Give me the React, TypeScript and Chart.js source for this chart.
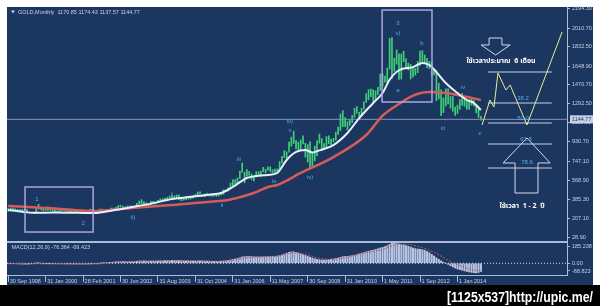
import React, { useEffect, useRef } from 'react';
import { Chart, registerables } from 'chart.js';

Chart.register(...registerables);

// ---------- data ----------
const DATE_IDX = [0, 16, 32, 48, 64, 80, 96, 112, 128, 144, 160, 176, 192];
const DATE_LABELS = ['30 Sep 1998', '31 Jan 2000', '28 Feb 2001', '30 Jun 2002', '31 Aug 2003', '31 Oct 2004', '31 Jan 2006', '11 May 2007', '30 Sep 2008', '31 Jan 2010', '1 May 2011', '1 Sep 2012', '1 Jan 2014'];
const PRICE_TICKS = [28.9, 207.1, 385.3, 568.9, 747.1, 930.7, 1110.9, 1292.5, 1470.7, 1648.9, 1832.5, 2010.7, 2194.3];
const MACD_TICK_POS = [157.8, 0, -70.5];
const MACD_TICK_LABELS = ['185.238', '0.00', '-88.823'];
const TITLE = 'GOLD,Monthly  1170.85 1174.43 1137.57 1144.77';
const MACD_TITLE = 'MACD(12,26,9) -76.364 -69.423';
const LAST_PRICE = 1144.77;

const HIGH = [
  300, 302, 301, 296,
  292, 291, 290, 292, 290, 265, 263, 258, 310, 339, 300, 291,
  293, 315, 305, 296, 288, 278, 294, 290, 291, 283, 279, 277, 275, 273, 276,
  273, 268, 269, 266, 293, 291, 269, 280, 294, 294, 282, 279, 287, 304, 304, 310, 328,
  330, 322, 314, 324, 325, 322, 322, 349, 370, 383, 365, 355, 341, 367, 368, 358,
  376, 390, 391, 398, 405, 417, 427, 419, 428, 428, 395, 398, 399, 411, 413, 421,
  434, 456, 458, 432, 438, 444, 437, 435, 438, 443, 430, 446, 476, 476, 496, 540,
  572, 574, 589, 655, 730, 643, 668, 650, 626, 607, 648, 649,
  655, 690, 672, 695, 693, 667, 673, 675, 745, 795, 848, 837,
  930, 975, 1032, 945, 929, 951, 988, 917, 905, 932, 825, 890,
  943, 1005, 963, 914, 981, 989, 958, 965, 1024, 1072, 1195, 1227,
  1162, 1124, 1140, 1182, 1249, 1266, 1211, 1250, 1310, 1388, 1425, 1432,
  1424, 1415, 1448, 1575, 1577, 1554, 1632, 1912, 1921, 1725, 1803, 1765,
  1765, 1791, 1720, 1677, 1666, 1640, 1627, 1693, 1791, 1796, 1755, 1722,
  1694, 1684, 1617, 1605, 1488, 1424, 1348, 1434, 1434, 1361, 1362, 1262,
  1280, 1332, 1392, 1331, 1315, 1332, 1346, 1322, 1287, 1255, 1174,
];
const LOW = [
  273, 288, 287, 283,
  283, 281, 278, 279, 265, 257, 252, 251, 254, 293, 287, 278,
  281, 282, 284, 275, 272, 267, 270, 276, 275, 270, 269, 268, 263, 263, 265,
  263, 255, 255, 255, 263, 265, 263, 266, 270, 276, 273, 271, 277, 285, 288, 298, 307,
  313, 300, 300, 311, 313, 314, 316, 316, 341, 345, 338, 326, 319, 335, 340, 341,
  352, 369, 370, 379, 388, 397, 399, 391, 392, 384, 372, 378, 383, 387, 389, 396,
  415, 426, 434, 417, 412, 424, 419, 414, 416, 414, 418, 428, 433, 460, 463, 494,
  514, 538, 544, 582, 642, 543, 605, 614, 573, 561, 601, 612,
  603, 647, 636, 663, 650, 640, 642, 642, 669, 732, 781, 778,
  834, 890, 915, 863, 851, 860, 912, 786, 740, 681, 705, 751,
  801, 918, 866, 865, 885, 913, 904, 931, 947, 1002, 1037, 1075,
  1075, 1044, 1088, 1114, 1164, 1202, 1156, 1177, 1242, 1305, 1330, 1359,
  1309, 1330, 1381, 1419, 1462, 1496, 1478, 1622, 1532, 1600, 1668, 1523,
  1527, 1691, 1627, 1613, 1527, 1546, 1564, 1587, 1656, 1693, 1672, 1635,
  1626, 1555, 1565, 1321, 1338, 1180, 1207, 1270, 1292, 1251, 1221, 1182,
  1200, 1240, 1277, 1268, 1240, 1240, 1280, 1273, 1206, 1161, 1137,
];
const MACD = [
  -2, -3, -4, -5, -6, -7, -7, -8, -8, -7, -5, -1, 1, 1, 0, -1,
  -2, -2, -3, -4, -4, -5, -5, -5, -6, -6, -6, -6, -7, -7, -7, -7,
  -7, -7, -7, -6, -5, -4, -3, -1, 1, 3, 5, 7, 9, 11, 13, 14,
  15, 15, 15, 14, 14, 15, 17, 19, 21, 22, 22, 21, 20, 20, 20, 20,
  21, 22, 23, 24, 25, 26, 27, 27, 27, 26, 24, 23, 22, 22, 21, 21,
  21, 22, 23, 22, 21, 20, 19, 18, 18, 18, 18, 19, 21, 23, 26, 31,
  36, 40, 44, 50, 58, 60, 62, 62, 61, 59, 58, 58, 58, 59, 60, 62,
  62, 63, 64, 66, 70, 76, 84, 92, 100, 104, 104, 100, 94, 86, 78, 72,
  64, 56, 48, 42, 36, 32, 30, 30, 32, 34, 38, 40, 44, 48, 54, 60,
  62, 64, 66, 70, 74, 80, 86, 92, 98, 104, 110, 116, 120, 126, 132, 140,
  146, 152, 160, 172, 182, 185.2, 180, 176, 172, 168, 162, 156, 148, 140, 134, 130,
  128, 124, 118, 108, 96, 82, 66, 50, 36, 22, 10, 0, -10, -22, -34, -44,
  -52, -58, -64, -70, -75, -79, -83, -86, -88.8, -84, -76.4,
];
const SIGNAL: [number, number][] = [
  [0, -2], [16, -5], [36, -6], [48, 10], [60, 20], [72, 26], [84, 21], [92, 19], [100, 44], [106, 58],
  [114, 62], [122, 96], [126, 90], [132, 52], [138, 34], [144, 50], [152, 92], [160, 126], [166, 170],
  [170, 175], [176, 148], [182, 100], [188, 28], [194, -30], [198, -58], [202, -69.4],
];
const MA_FAST: [number, number][] = [
  [0, 285], [6, 268], [11, 258], [20, 262], [30, 258], [37, 256], [45, 282], [53, 313], [62, 350], [70, 389],
  [78, 410], [86, 430], [91, 446], [96, 503], [102, 588], [107, 610], [111, 617], [115, 636], [119, 759],
  [123, 835], [127, 854], [130, 830], [133, 850], [139, 901], [145, 1015], [150, 1157], [156, 1300],
  [160, 1394], [163, 1520], [167, 1610], [173, 1640], [177, 1680], [180, 1660], [183, 1593], [187, 1489],
  [192, 1394], [196, 1328], [199, 1300], [202, 1233],
];
const MA_SLOW: [number, number][] = [
  [0, 323], [20, 300], [36, 275], [53, 304], [70, 332], [90, 370], [94, 380], [105, 446], [111, 503],
  [115, 522], [125, 636], [139, 787], [153, 996], [160, 1180], [167, 1290], [173, 1370], [180, 1404],
  [187, 1394], [194, 1366], [202, 1328],
];
const ZIGZAG: [number, number][] = [
  [202.5, 1091], [205.9, 1328], [207.6, 1262], [209.3, 1584], [212.7, 1423], [214.5, 1470], [221.7, 1091], [236.7, 1973],
];
const FIB_LEVELS = [1593.5, 1299.5, 1110, 910.7, 683];
const FIB_SPAN = [205, 232.3];
const FIB_LABELS: [number, number, string][] = [
  [220, 1347, '38.2'], [220, 1157, '50.0'], [221.3, 958, '61.8'], [221.7, 740, '78.6'],
];
const WAVE_LABELS: [number, number, string][] = [
  [12.3, 389, '1'], [32, 162, '2'], [53.3, 219, 'ii)'], [70, 446, 'i'], [91.4, 332, 'ii'], [98.6, 768, 'iii'],
  [113.6, 560, 'iv'], [120.4, 1129, 'iii)'], [120.4, 1044, 'v'], [129, 598, 'iv)'], [166.6, 2058, '3'],
  [166.6, 1963, 'v)'], [176.8, 1868, 'b'], [166.6, 1423, 'a'], [194.4, 1451, 'iv'], [185.8, 1062, 'iii'],
  [201.6, 1015, 'c'],
];
const BOXES: [number, number, number, number][] = [
  [7.2, 503, 36.3, 76], [159.8, 2181, 181.1, 1309],
];
const DOWN_ARROW: [number, number][] = [
  [205.5, 1916], [211, 1916], [211, 1850], [214.5, 1850], [208.3, 1755], [202.1, 1850], [205.5, 1850],
];
const UP_ARROW: [number, number][] = [
  [221.7, 968], [231.6, 731], [226.4, 731], [226.4, 446], [216.6, 446], [216.6, 731], [211.5, 731],
];
const NOTES: [number, number, string][] = [
  [210.6, 1688, 'ใช้เวลาประมาณ  6 เดือน'], [219.6, 313, 'ใช้เวลา  1 - 2  ปี'],
];
const WATERMARK = '[1125x537]http://upic.me/';

// ---------- style ----------
const NAVY = '#1b365f';
const AXIS_TEXT = '#c6d2e8';
const AXIS_LINE = '#a9bbdb';
const FONT = '"Liberation Sans", Arial, sans-serif';
const X_MIN = -0.5, X_MAX = 238.8;
const Y_MIN = -18.5, Y_MAX = 2209.9;
const M_MIN = -107.1, M_MAX = 194.4;

const overlay = {
  id: 'overlay',
  beforeDraw(chart: any) {
    const { ctx } = chart;
    const a = chart.chartArea;
    const ys = chart.scales.y;
    const xs = chart.scales.x;
    ctx.save();
    ctx.fillStyle = '#ffffff';
    ctx.fillRect(0, 0, chart.width, chart.height);
    ctx.fillStyle = '#000000';
    ctx.fillRect(0, xs.bottom, chart.width, chart.height - xs.bottom);
    ctx.fillStyle = NAVY;
    ctx.fillRect(a.left, a.top, ys.right - a.left, xs.bottom - a.top);
    ctx.restore();
  },
  afterDatasetsDraw(chart: any) {
    const { ctx } = chart;
    const px = (v: number) => chart.scales.x.getPixelForValue(v);
    const py = (v: number) => chart.scales.y.getPixelForValue(v);
    ctx.save();
    ctx.strokeStyle = '#ada4e4';
    ctx.lineWidth = 1.5;
    BOXES.forEach(([x0, y0, x1, y1]) => {
      ctx.strokeRect(px(x0), py(y0), px(x1) - px(x0), py(y1) - py(y0));
    });
    ctx.strokeStyle = '#d2daea';
    ctx.lineWidth = 1;
    [DOWN_ARROW, UP_ARROW].forEach((poly) => {
      ctx.beginPath();
      poly.forEach(([x, y], k) => (k ? ctx.lineTo(px(x), py(y)) : ctx.moveTo(px(x), py(y))));
      ctx.closePath();
      ctx.stroke();
    });
    ctx.textAlign = 'center';
    ctx.textBaseline = 'middle';
    ctx.font = `6px ${FONT}`;
    ctx.fillStyle = '#4eaef0';
    WAVE_LABELS.forEach(([x, y, t]) => ctx.fillText(t, px(x), py(y)));
    ctx.fillStyle = '#55b0ee';
    FIB_LABELS.forEach(([x, y, t]) => ctx.fillText(t, px(x), py(y)));
    ctx.fillStyle = '#ffffff';
    ctx.font = `bold 7px "Noto Sans Thai", "Noto Sans", "DejaVu Sans", sans-serif`;
    const widths = [78, 56];
    NOTES.forEach(([x, y, t], k) => ctx.fillText(t, px(x), py(y), widths[k]));
    ctx.restore();
  },
  afterDraw(chart: any) {
    const { ctx } = chart;
    const a = chart.chartArea;
    const ys = chart.scales.y;
    ctx.save();
    // panel separator
    ctx.strokeStyle = AXIS_LINE;
    ctx.lineWidth = 2;
    ctx.beginPath();
    ctx.moveTo(a.left, ys.bottom);
    ctx.lineTo(ys.left, ys.bottom);
    ctx.stroke();
    // titles
    ctx.fillStyle = AXIS_TEXT;
    ctx.font = `5.5px ${FONT}`;
    ctx.textAlign = 'left';
    ctx.textBaseline = 'middle';
    ctx.beginPath();
    ctx.moveTo(a.left + 4, a.top + 3.5);
    ctx.lineTo(a.left + 8, a.top + 3.5);
    ctx.lineTo(a.left + 6, a.top + 6.5);
    ctx.closePath();
    ctx.fill();
    ctx.fillText(TITLE, a.left + 11, a.top + 5);
    ctx.fillText(MACD_TITLE, a.left + 4.5, ys.bottom + 5);
    // last price box
    const yy = ys.getPixelForValue(LAST_PRICE);
    ctx.fillStyle = '#c9d3e8';
    ctx.fillRect(ys.left + 3, yy - 4, 23, 8);
    ctx.fillStyle = NAVY;
    ctx.fillText(LAST_PRICE.toFixed(2), ys.left + 5, yy);
    // watermark
    ctx.fillStyle = '#ffffff';
    ctx.font = `bold 15px "Liberation Sans Narrow", "Liberation Sans", sans-serif`;
    const w = ctx.measureText(WATERMARK).width;
    ctx.translate(447, 298);
    ctx.scale(146 / w, 1);
    ctx.fillText(WATERMARK, 0, 0);
    ctx.restore();
  },
};

function buildConfig(): any {
  const lineBase = { type: 'line', pointRadius: 0, fill: false, borderWidth: 1 };
  return {
    type: 'bar',
    data: {
      datasets: [
        {
          type: 'bar',
          data: HIGH.map((h, i) => ({ x: i, y: [LOW[i], h] })),
          backgroundColor: '#3fcf78',
          barThickness: 1,
          grouped: false,
          yAxisID: 'y',
          order: 10,
        },
        {
          type: 'bar',
          data: MACD.map((v, i) => ({ x: i, y: v })),
          backgroundColor: '#b7c5e2',
          barThickness: 1.4,
          grouped: false,
          yAxisID: 'yMacd',
          order: 10,
        },
        {
          ...lineBase,
          data: [{ x: X_MIN, y: 0 }, { x: X_MAX, y: 0 }],
          borderColor: '#d6deee',
          borderDash: [1, 2],
          yAxisID: 'yMacd',
          order: 9,
        },
        {
          ...lineBase,
          data: SIGNAL.map(([x, y]) => ({ x, y })),
          borderColor: '#c9506c',
          borderDash: [2, 1.5],
          cubicInterpolationMode: 'monotone',
          yAxisID: 'yMacd',
          order: 1,
        },
        {
          ...lineBase,
          data: [{ x: X_MIN, y: LAST_PRICE }, { x: X_MAX, y: LAST_PRICE }],
          borderColor: '#7f95bf',
          yAxisID: 'y',
          order: 8,
        },
        {
          ...lineBase,
          data: MA_SLOW.map(([x, y]) => ({ x, y })),
          borderColor: '#d65c5a',
          borderWidth: 2.5,
          cubicInterpolationMode: 'monotone',
          yAxisID: 'y',
          order: 4,
        },
        {
          ...lineBase,
          data: MA_FAST.map(([x, y]) => ({ x, y })),
          borderColor: '#e8f0ff',
          borderWidth: 2,
          cubicInterpolationMode: 'monotone',
          yAxisID: 'y',
          order: 3,
        },
        {
          ...lineBase,
          data: FIB_LEVELS.flatMap((l) => [{ x: FIB_SPAN[0], y: l }, { x: FIB_SPAN[1], y: l }, { x: FIB_SPAN[1], y: null }]),
          borderColor: '#c9d1e3',
          spanGaps: false,
          yAxisID: 'y',
          order: 5,
        },
        {
          ...lineBase,
          data: ZIGZAG.map(([x, y]) => ({ x, y })),
          borderColor: '#e6ee98',
          yAxisID: 'y',
          order: 2,
        },
      ],
    },
    options: {
      responsive: false,
      animation: false,
      events: [],
      layout: { padding: { left: 7, top: 7, right: 7, bottom: 21 } },
      plugins: { legend: { display: false }, tooltip: { enabled: false }, title: { display: false } },
      scales: {
        x: {
          type: 'linear',
          position: 'bottom',
          min: X_MIN,
          max: X_MAX,
          offset: false,
          afterBuildTicks: (s: any) => { s.ticks = DATE_IDX.map((v) => ({ value: v })); },
          afterFit: (s: any) => { s.height = 10; },
          ticks: {
            callback: (_v: any, idx: number) => ' ' + DATE_LABELS[idx],
            align: 'start',
            maxRotation: 0,
            autoSkip: false,
            padding: -4,
            color: AXIS_TEXT,
            font: { family: FONT, size: 5.5 },
          },
          grid: { drawOnChartArea: false, drawTicks: true, tickLength: 7, color: AXIS_LINE, offset: false },
          border: { display: true, color: AXIS_LINE },
        },
        y: {
          type: 'linear',
          position: 'right',
          stack: 'panels',
          stackWeight: 235,
          min: Y_MIN,
          max: Y_MAX,
          afterBuildTicks: (s: any) => { s.ticks = PRICE_TICKS.map((v) => ({ value: v })); },
          afterFit: (s: any) => { s.width = 26; },
          ticks: {
            callback: (v: any) => Number(v).toFixed(2),
            autoSkip: false,
            padding: 2,
            color: AXIS_TEXT,
            font: { family: FONT, size: 5.5 },
          },
          grid: { drawOnChartArea: false, drawTicks: true, tickLength: 3, color: AXIS_LINE },
          border: { display: true, color: AXIS_LINE },
        },
        yMacd: {
          type: 'linear',
          position: 'right',
          stack: 'panels',
          stackWeight: 33,
          min: M_MIN,
          max: M_MAX,
          afterBuildTicks: (s: any) => { s.ticks = MACD_TICK_POS.map((v) => ({ value: v })); },
          afterFit: (s: any) => { s.width = 26; },
          ticks: {
            callback: (_v: any, idx: number) => MACD_TICK_LABELS[idx],
            autoSkip: false,
            padding: 2,
            color: AXIS_TEXT,
            font: { family: FONT, size: 5.5 },
          },
          grid: { drawOnChartArea: false, drawTicks: true, tickLength: 3, color: AXIS_LINE },
          border: { display: true, color: AXIS_LINE },
        },
      },
    },
    plugins: [overlay],
  };
}

export default function App() {
  const ref = useRef<HTMLCanvasElement>(null);
  useEffect(() => {
    const chart = new Chart(ref.current as HTMLCanvasElement, buildConfig());
    return () => chart.destroy();
  }, []);
  return (
    <div style={{ position: 'fixed', left: 0, top: 0, width: 600, height: 306 }}>
      <canvas ref={ref} width={600} height={306} style={{ display: 'block' }} />
    </div>
  );
}
